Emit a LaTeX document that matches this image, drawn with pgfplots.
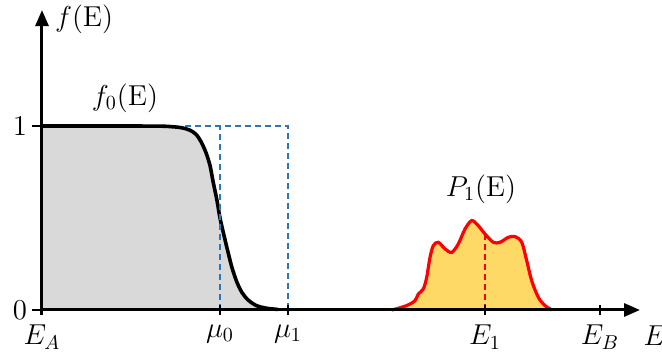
\documentclass[border=0pt]{standalone}
\usepackage{pgfplots}
\pgfplotsset{compat=1.18}
\usetikzlibrary{arrows.meta}
\definecolor{fgray}{HTML}{D9D9D9}
\definecolor{dblue}{HTML}{2E75B6}
\definecolor{pyel}{HTML}{FFD966}
\begin{document}
\begin{tikzpicture}
\path[use as bounding box] (-21pt,-23pt) rectangle (310pt,155pt);
\begin{axis}[anchor=origin, x=0.5pt, y=92pt,
  xmin=0, xmax=598, ymin=-0.025, ymax=1.63,
  axis lines=middle, clip=false,
  font=\Large,
  axis line style={line width=1.5pt, -{Triangle[length=8pt,width=6.5pt]}},
  hide obscured x ticks=false, hide obscured y ticks=false,
  xtick={0,178,246,443,558},
  xticklabels={$E_A$,$\mu_0$,$\mu_1$,$E_1$,$E_B$},
  ytick={0,1},
  major tick length=5pt,
  xtick align=center, ytick align=outside,
  tick style={black, line width=1.2pt},
  xticklabel style={yshift=-1.5pt},
  yticklabel style={xshift=1pt},
  axis on top]
% Fermi function f0(E)
\addplot[fill=fgray, draw=none, smooth] coordinates {
 (0,1) (110,0.9995) (130,0.996) (140,0.990) (148,0.977) (154,0.955) (159,0.915)
 (164,0.855) (168,0.785) (171,0.700) (175,0.595) (178,0.5) (182,0.405) (186,0.315)
 (190,0.230) (195,0.150) (200,0.095) (206,0.055) (214,0.025) (224,0.010) (236,0.003)} \closedcycle;
\addplot[black, line width=1.8pt, smooth] coordinates {
 (0,1) (110,0.9995) (130,0.996) (140,0.990) (148,0.977) (154,0.955) (159,0.915)
 (164,0.855) (168,0.785) (171,0.700) (175,0.595) (178,0.5) (182,0.405) (186,0.315)
 (190,0.230) (195,0.150) (200,0.095) (206,0.055) (214,0.025) (224,0.010) (236,0.003)};
% step function (dashed)
\addplot[dblue, line width=1pt, dash pattern=on 3pt off 2pt] coordinates {(143,1) (246,1) (246,0)};
\addplot[dblue, line width=1pt, dash pattern=on 3pt off 2pt] coordinates {(178,0) (178,1)};
% P1(E)
\addplot[fill=pyel, draw=none, smooth] coordinates {
 (350,0) (364.7,0.024) (373,0.051) (376.3,0.087) (381.3,0.114) (384.7,0.178) (388,0.286)
 (391.3,0.350) (396.3,0.368) (403,0.332) (409.7,0.313) (416.3,0.359) (423,0.440)
 (429.7,0.486) (436.3,0.458) (443,0.413) (451.3,0.368) (458,0.368) (466.3,0.395)
 (473,0.399) (479.7,0.368) (484.7,0.268) (489.7,0.159) (496.3,0.069) (503,0.024) (510,0)} \closedcycle;
\addplot[red, line width=1.6pt, smooth] coordinates {
 (350,0) (364.7,0.024) (373,0.051) (376.3,0.087) (381.3,0.114) (384.7,0.178) (388,0.286)
 (391.3,0.350) (396.3,0.368) (403,0.332) (409.7,0.313) (416.3,0.359) (423,0.440)
 (429.7,0.486) (436.3,0.458) (443,0.413) (451.3,0.368) (458,0.368) (466.3,0.395)
 (473,0.399) (479.7,0.368) (484.7,0.268) (489.7,0.159) (496.3,0.069) (503,0.024) (510,0)};
\addplot[red, line width=1pt, dash pattern=on 3pt off 2pt] coordinates {(443,0) (443,0.413)};
% labels
\node[anchor=west] at (axis cs:6,1.58) {$f(\mathrm{E})$};
\node at (axis cs:83,1.15) {$f_0(\mathrm{E})$};
\node at (axis cs:439,0.655) {$P_1(\mathrm{E})$};
\node at (axis cs:613,-0.14) {$E$};
\end{axis}
\end{tikzpicture}
\end{document}
